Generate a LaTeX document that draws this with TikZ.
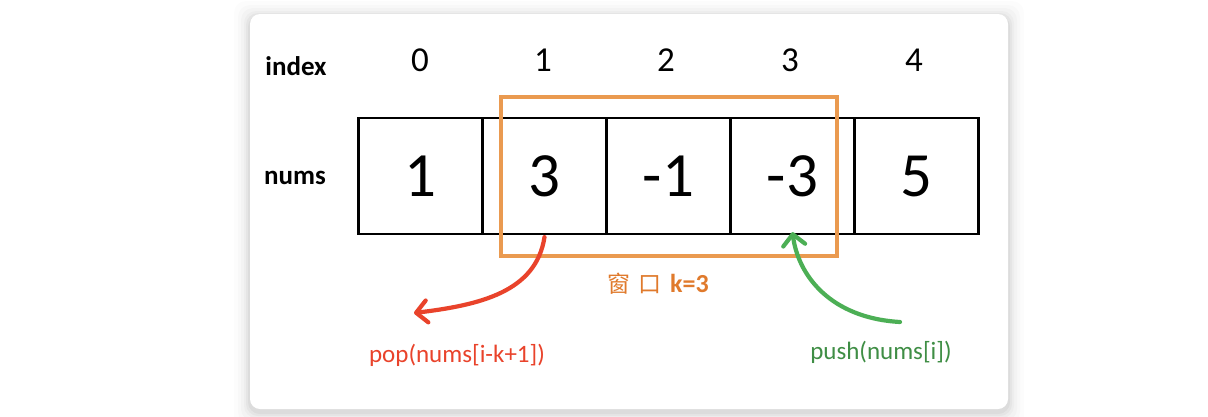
\documentclass[tikz,border=0pt]{standalone}
\usepackage{fontspec}
\setmainfont{Carlito}
\newfontfamily\cjk{Noto Sans CJK SC}
\usetikzlibrary{arrows.meta}
\definecolor{winor}{HTML}{EA9A50}
\definecolor{labor}{HTML}{E07A2C}
\definecolor{popred}{HTML}{E9432B}
\definecolor{pushgr}{HTML}{4CAF55}
\definecolor{pushtx}{HTML}{3F8E45}
\tikzset{
  cell/.style={draw=black, line width=2.2pt, minimum width=124pt, minimum height=116pt, inner sep=0pt, font=\fontsize{63}{63}\selectfont},
  idx/.style={font=\fontsize{35}{35}\selectfont, inner sep=0pt},
  rowlab/.style={font=\bfseries\fontsize{27}{27}\selectfont, inner sep=0pt},
  curvearrow/.style={line width=4.2pt, line cap=round, -{Straight Barb[length=11pt,width=22pt,line cap=round,line join=round]}},
}
\begin{document}
\begin{tikzpicture}[x=1pt,y=-1pt]
\useasboundingbox (0,0) rectangle (1208,416);
\fill[white] (0,0) rectangle (1208,416);
% shadow
\foreach \d/\o in {16/0.012,12/0.015,9/0.02,6/0.025,4/0.03,2/0.04}{
  \fill[black,opacity=\o,rounded corners=12pt] (250-\d,14-\d+3) rectangle (1008+\d,409+\d+3);
}
\fill[white,rounded corners=10pt] (250,14) rectangle (1008,409);
% labels
\node[rowlab] (lidx) at (296,66) {index};
\node[rowlab] (lnum) at (295,178) {nums};
% cells
\node[cell] (c0) at (420.5,176) {1};
\node[cell] (c1) at (544.5,176) {3};
\node[cell] (c2) at (668.5,176) {-1};
\node[cell] (c3) at (792.5,176) {-3};
\node[cell] (c4) at (916.5,176) {5};
% indices
\node[idx] (i0) at (420,60) {0};
\node[idx] (i1) at (543,60) {1};
\node[idx] (i2) at (666,60) {2};
\node[idx] (i3) at (790,60) {3};
\node[idx] (i4) at (914,60) {4};
% window
\draw[winor, line width=4pt] (500.5,97) rectangle (837,255.5);
\node[labor, inner sep=0pt] (win) at (658,284) {{\cjk\fontsize{23}{23}\selectfont 窗\hspace{8pt}口}\hspace{9pt}{\bfseries\fontsize{26}{26}\selectfont k=3}};
% pop arrow
\coordinate (popend) at (414,313);
\draw[popred, curvearrow] (c1.south) ++(0,2) .. controls (536,292) and (480,305) .. (popend);
\node[popred, inner sep=0pt, font=\fontsize{25}{25}\selectfont] (pop) at (457,355) {pop(nums[i-k+1])};
% push arrow
\coordinate (pushstart) at (900,322);
\draw[pushgr, curvearrow] (pushstart) .. controls (830,318) and (798,275) .. ([yshift=3pt]c3.south);
\node[pushtx, inner sep=0pt, font=\fontsize{25}{25}\selectfont] (push) at (881,352) {push(nums[i])};
\end{tikzpicture}
\end{document}
